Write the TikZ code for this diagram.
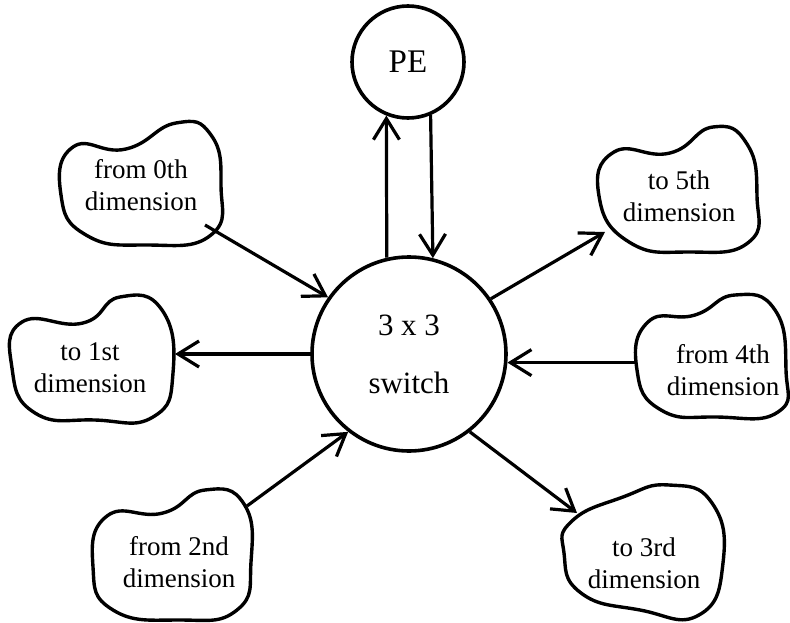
\documentclass[tikz,border=0pt]{standalone}
\usepackage{fontspec}
\setmainfont{Liberation Serif}
\usetikzlibrary{arrows.meta,calc}
\begin{document}
\begin{tikzpicture}[x=1pt,y=-1pt,
  ring/.style={circle, draw, line width=3.6pt, inner sep=0pt},
  blobtext/.style={align=center, font=\fontsize{27}{32}\selectfont, inner sep=0pt},
  blobline/.style={line width=3.4pt, line join=round},
  arr/.style={line width=3.2pt, -{Straight Barb[length=21pt,width=26pt,line width=3.2pt]}}]
\useasboundingbox (0,0) rectangle (790,623);

% central switch and processing element
\node[ring, minimum size=194pt, font=\fontsize{31}{58}\selectfont, align=center] (sw) at (409,354) {3 x 3\\switch};
\node[ring, minimum size=112pt, font=\fontsize{33}{40}\selectfont] (pe) at (408,62) {PE};

% dimension blobs: label node plus a hand-drawn outline around it
\node[blobtext] (b0) at (141,185) {from 0th\\dimension};
\draw[blobline, shift={(b0)}] plot[smooth cycle, tension=0.85] coordinates
  {(-68,-38) (-15,-36) (35,-62) (70,-50) (80,0) (70,50) (5,60) (-55,50) (-80,10)};
\coordinate (b0p) at ($(b0)+(64,40)$);

\node[blobtext] (b5) at (679,196) {to 5th\\dimension};
\draw[blobline, shift={(b5)}] plot[smooth cycle, tension=0.85] coordinates
  {(-65,-44) (-9,-43) (34,-69) (68,-52) (78,0) (70,46) (10,56) (-50,46) (-80,0)};
\coordinate (b5p) at ($(b5)+(-74,36)$);

\node[blobtext] (b1) at (90,368) {to 1st\\dimension};
\draw[blobline, shift={(b1)}] plot[smooth cycle, tension=0.85] coordinates
  {(-68,-46) (-7,-45) (30,-71) (72,-58) (83,5) (63,49) (5,52) (-55,45) (-78,0)};
\coordinate (b1p) at ($(b1)+(85,-11)$);

\node[blobtext] (b4) at (723,370) {from 4th\\dimension};
\draw[blobline, shift={(b4)}] plot[smooth cycle, tension=0.85] coordinates
  {(-75,-48) (-28,-55) (12,-75) (52,-60) (63,0) (55,42) (-6,47) (-62,40) (-86,0)};
\coordinate (b4p) at ($(b4)+(-86,-7)$);

\node[blobtext] (b2) at (179,562) {from 2nd\\dimension};
\draw[blobline, shift={(b2)}] plot[smooth cycle, tension=0.85] coordinates
  {(-72,-46) (-16,-49) (26,-72) (65,-58) (72,0) (58,48) (0,58) (-66,48) (-86,5)};
\coordinate (b2p) at ($(b2)+(68,-56)$);

\node[blobtext] (b3) at (644,563) {to 3rd\\dimension};
\draw[blobline, shift={(b3)}] plot[smooth cycle, tension=0.85] coordinates
  {(-72,-42) (-21,-66) (25,-78) (68,-60) (79,0) (55,52) (-4,47) (-63,30) (-80,-10)};
\coordinate (b3p) at ($(b3)+(-67,-50)$);

% links between the switch, the PE and the dimensions
\draw[arr] (b0p) -- (sw.145);
\draw[arr] (sw.34) -- (b5p);
\draw[arr] (sw.west) -- (sw.west -| b1p);
\draw[arr] (b4p |- sw.-5) -- (sw.-5);
\draw[arr] (b2p) -- (sw.232);
\draw[arr] (sw.308) -- (b3p);
\draw[arr] (sw.103) -- (pe.248);
\draw[arr] (pe.293) -- (sw.76);
\end{tikzpicture}
\end{document}
